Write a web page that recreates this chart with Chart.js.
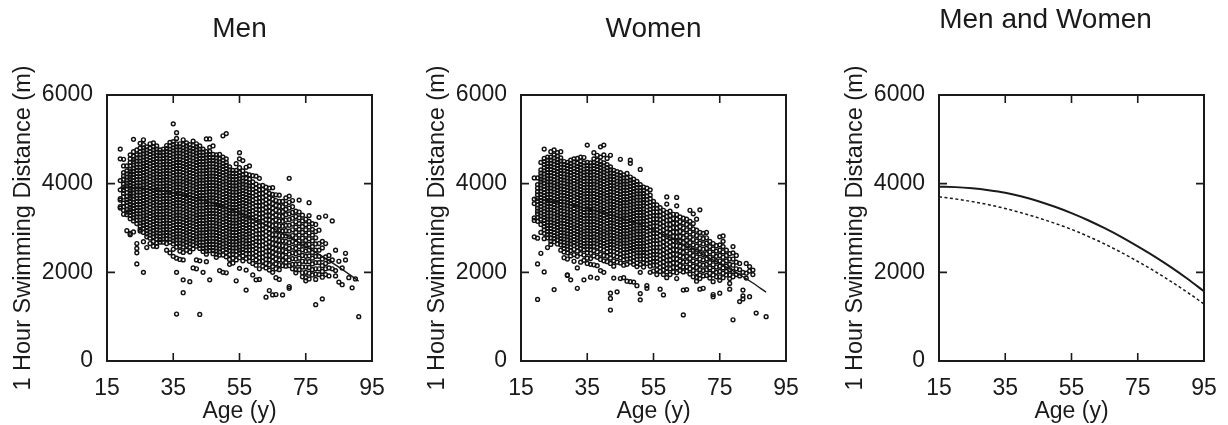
<!DOCTYPE html>
<html><head><meta charset="utf-8">
<script src="https://cdn.jsdelivr.net/npm/chart.js@4.4.1/dist/chart.umd.min.js"></script>
<style>
html,body{margin:0;padding:0;background:#fff;}
#wrap{position:relative;width:1228px;height:425px;overflow:hidden;background:#fff;}
canvas{position:absolute;left:0;top:0;}
</style></head><body>
<div id="wrap">
<canvas id="c1" width="1228" height="425"></canvas>
<canvas id="c2" width="1228" height="425"></canvas>
<canvas id="c3" width="1228" height="425"></canvas>
</div>
<script>
// ---------------- DATA ----------------
const xTickValues = [15, 35, 55, 75, 95];
const yTickValues = [0, 2000, 4000, 6000];
const panelTitles = ['Men', 'Women', 'Men and Women'];
const xAxisTitle = 'Age (y)';
const yAxisTitle = '1 Hour Swimming Distance (m)';

// Men: age (years) and the swimming distances (m) recorded at that age
const menAges = [19,20,21,22,23,24,25,26,27,28,29,30,31,32,33,34,35,36,37,38,39,40,41,42,43,44,45,46,47,48,49,50,51,52,53,54,55,56,57,58,59,60,61,62,63,64,65,66,67,68,69,70,71,72,73,74,75,76,77,78,79,80,81,82,83,84,85,86,87,88,89,90,91];
const menDist = [
[4780,4560,4070,3860,3660,3630,3480,3450],
[4550,4400,4250,4170,4100,3990,3920,3850,3780,3700,3560,3480,3400,3310],
[4400,4290,4220,4150,4080,4010,3950,3880,3800,3710,3640,3580,3500,3420,3360,3300,2940],
[4650,4560,4480,4400,4330,4270,4210,4150,4090,4030,3960,3900,3840,3780,3720,3660,3600,3530,3470,3410,3350,3280,3210,2880,2850],
[5000,4720,4620,4550,4490,4420,4350,4280,4210,4140,4070,4000,3930,3860,3790,3720,3650,3580,3510,3440,3370,3300,3230,3160,2910],
[4760,4650,4580,4510,4440,4370,4300,4230,4160,4090,4020,3950,3880,3810,3740,3670,3600,3530,3460,3390,3320,3250,3180,3100,2650,2540,2440,2190],
[4910,4800,4720,4650,4580,4510,4440,4370,4300,4230,4160,4090,4020,3950,3880,3810,3740,3670,3600,3530,3460,3390,3320,3250,3180,3110,3040,2970,2930],
[4990,4880,4810,4740,4670,4600,4530,4460,4390,4320,4250,4180,4110,4040,3970,3900,3830,3760,3690,3620,3550,3480,3410,3340,3270,3200,3130,3060,2990,2900,2690,2000],
[4830,4760,4690,4620,4550,4480,4410,4340,4270,4200,4130,4060,3990,3920,3850,3780,3710,3640,3570,3500,3430,3360,3290,3220,3150,3080,3010,2940,2870,2800,2560],
[4900,4800,4730,4660,4590,4520,4450,4380,4310,4240,4170,4100,4030,3960,3890,3820,3750,3680,3610,3540,3470,3400,3330,3260,3190,3120,3050,2980,2910,2840,2770,2650],
[4920,4830,4760,4690,4620,4550,4480,4410,4340,4270,4200,4130,4060,3990,3920,3850,3780,3710,3640,3570,3500,3430,3360,3290,3220,3150,3080,3010,2940,2870,2800,2700,2590],
[4850,4780,4710,4640,4570,4500,4430,4360,4290,4220,4150,4080,4010,3940,3870,3800,3730,3660,3590,3520,3450,3380,3310,3240,3170,3100,3030,2960,2890,2820,2750,2660,2580],
[4760,4700,4630,4560,4490,4420,4350,4280,4210,4140,4070,4000,3930,3860,3790,3720,3650,3580,3510,3440,3370,3300,3230,3160,3090,3020,2950,2880,2810,2740,2680],
[4780,4710,4640,4570,4500,4430,4360,4290,4220,4150,4080,4010,3940,3870,3800,3730,3660,3590,3520,3450,3380,3310,3240,3170,3100,3030,2960,2890,2820,2750,2680],
[4860,4790,4720,4650,4580,4510,4440,4370,4300,4230,4160,4090,4020,3950,3880,3810,3740,3670,3600,3530,3460,3390,3320,3250,3180,3110,3040,2970,2900,2830,2760,2650,2500],
[4930,4850,4780,4710,4640,4570,4500,4430,4360,4290,4220,4150,4080,4010,3940,3870,3800,3730,3660,3590,3520,3450,3380,3310,3240,3170,3100,3030,2960,2890,2820,2750,2680,2440],
[5350,4950,4880,4810,4740,4670,4600,4530,4460,4390,4320,4250,4180,4110,4040,3970,3900,3830,3760,3690,3620,3550,3480,3410,3340,3270,3200,3130,3060,2990,2920,2850,2780,2710,2640,2520,2360],
[5150,5020,4900,4830,4760,4690,4620,4550,4480,4410,4340,4270,4200,4130,4060,3990,3920,3850,3780,3710,3640,3570,3500,3430,3360,3290,3220,3150,3080,3010,2940,2870,2800,2730,2660,2570,2320,2000,1060],
[4900,4830,4760,4690,4620,4550,4480,4410,4340,4270,4200,4130,4060,3990,3920,3850,3780,3710,3640,3570,3500,3430,3360,3290,3220,3150,3080,3010,2940,2870,2800,2730,2660,2590,2480,2290],
[4990,4880,4810,4740,4670,4600,4530,4460,4390,4320,4250,4180,4110,4040,3970,3900,3830,3760,3690,3620,3550,3480,3410,3340,3270,3200,3130,3060,2990,2920,2850,2780,2710,2640,2570,2450,2280,1830,1540],
[4920,4850,4780,4710,4640,4570,4500,4430,4360,4290,4220,4150,4080,4010,3940,3870,3800,3730,3660,3590,3520,3450,3380,3310,3240,3170,3100,3030,2960,2890,2820,2750,2680,2610,2500],
[4880,4810,4740,4670,4600,4530,4460,4390,4320,4250,4180,4110,4040,3970,3900,3830,3760,3690,3620,3550,3480,3410,3340,3270,3200,3130,3060,2990,2920,2850,2780,2710,2640,2570,2460,1790],
[4960,4860,4790,4720,4650,4580,4510,4440,4370,4300,4230,4160,4090,4020,3950,3880,3810,3740,3670,3600,3530,3460,3390,3320,3250,3180,3110,3040,2970,2900,2830,2760,2690,2620,2530,2100],
[4900,4830,4760,4690,4620,4550,4480,4410,4340,4270,4200,4130,4060,3990,3920,3850,3780,3710,3640,3570,3500,3430,3360,3290,3220,3150,3080,3010,2940,2870,2800,2730,2660,2590,2280,2080],
[4850,4780,4710,4640,4570,4500,4430,4360,4290,4220,4150,4080,4010,3940,3870,3800,3730,3660,3590,3520,3450,3380,3310,3240,3170,3100,3030,2960,2890,2820,2750,2680,2610,2540,2260,1050],
[4780,4710,4640,4570,4500,4430,4360,4290,4220,4150,4080,4010,3940,3870,3800,3730,3660,3590,3520,3450,3380,3310,3240,3170,3100,3030,2960,2890,2820,2750,2680,2610,2540,2470,2000],
[5010,4720,4650,4580,4510,4440,4370,4300,4230,4160,4090,4020,3950,3880,3810,3740,3670,3600,3530,3460,3390,3320,3250,3180,3110,3040,2970,2900,2830,2760,2690,2620,2550,2480,2410,2240],
[5010,4820,4730,4660,4590,4520,4450,4380,4310,4240,4170,4100,4030,3960,3890,3820,3750,3680,3610,3540,3470,3400,3330,3260,3190,3120,3050,2980,2910,2840,2770,2700,2630,2560,2490,1830],
[4850,4660,4590,4520,4450,4380,4310,4240,4170,4100,4030,3960,3890,3820,3750,3680,3610,3540,3470,3400,3330,3260,3190,3120,3050,2980,2910,2840,2770,2700,2630,2560,2490,2420],
[4650,4580,4510,4440,4370,4300,4230,4160,4090,4020,3950,3880,3810,3740,3670,3600,3530,3460,3390,3320,3250,3180,3110,3040,2970,2900,2830,2760,2690,2620,2550,2480,2410,2340],
[4660,4560,4490,4420,4350,4280,4210,4140,4070,4000,3930,3860,3790,3720,3650,3580,3510,3440,3370,3300,3230,3160,3090,3020,2950,2880,2810,2740,2670,2600,2530,2460,2390,2040],
[5080,4600,4530,4460,4390,4320,4250,4180,4110,4040,3970,3900,3830,3760,3690,3620,3550,3480,3410,3340,3270,3200,3130,3060,2990,2920,2850,2780,2710,2640,2570,2500,2390,2000],
[5130,4560,4480,4410,4340,4270,4200,4130,4060,3990,3920,3850,3780,3710,3640,3570,3500,3430,3360,3290,3220,3150,3080,3010,2940,2870,2800,2730,2660,2590,2520,2450,2350,1990],
[4380,4310,4240,4170,4100,4030,3960,3890,3820,3750,3680,3610,3540,3470,3400,3330,3260,3190,3120,3050,2980,2910,2840,2770,2700,2630,2560,2490,2400,2290,2180],
[4300,4230,4160,4090,4020,3950,3880,3810,3740,3670,3600,3530,3460,3390,3320,3250,3180,3110,3040,2970,2900,2830,2760,2690,2620,2550,2480,2410,2320,2210],
[4450,4300,4230,4160,4090,4020,3950,3880,3810,3740,3670,3600,3530,3460,3390,3320,3250,3180,3110,3040,2970,2900,2830,2760,2690,2620,2550,2480,2390,2280,1810],
[4700,4560,4360,4250,4180,4110,4040,3970,3900,3830,3760,3690,3620,3550,3480,3410,3340,3270,3200,3130,3060,2990,2920,2850,2780,2710,2640,2570,2500,2440,2330,2090],
[4520,4290,4200,4130,4060,3990,3920,3850,3780,3710,3640,3570,3500,3430,3360,3290,3220,3150,3080,3010,2940,2870,2800,2730,2660,2590,2520,2450,2370,2260],
[4370,4220,4120,4040,3970,3900,3830,3760,3690,3620,3550,3480,3410,3340,3270,3200,3130,3060,2990,2920,2850,2780,2710,2640,2570,2500,2420,2310,2050,1600],
[4400,4200,4100,4020,3950,3880,3800,3730,3660,3590,3520,3440,3370,3300,3230,3160,3080,3010,2940,2870,2800,2720,2650,2580,2500,2420,2340,2250],
[4180,4040,3950,3870,3790,3710,3630,3550,3470,3390,3310,3230,3150,3070,2990,2910,2830,2750,2670,2590,2510,2430,2330,2200,1940],
[4170,3990,3900,3820,3740,3660,3580,3500,3420,3340,3260,3180,3100,3020,2940,2860,2780,2700,2620,2540,2460,2380,2280,2160,1830],
[4120,3950,3860,3770,3680,3590,3500,3410,3320,3230,3140,3050,2960,2870,2780,2690,2600,2510,2420,2330,2240,2080,1840],
[3960,3870,3780,3690,3600,3510,3420,3330,3240,3150,3060,2970,2880,2790,2700,2610,2520,2430,2340,2250,2140],
[3920,3820,3730,3640,3550,3460,3370,3280,3190,3100,3010,2920,2830,2740,2650,2560,2470,2380,2290,2200,2100,1440],
[3900,3780,3680,3580,3480,3380,3280,3180,3080,2980,2880,2780,2680,2580,2480,2380,2280,2170,2050,1590],
[3910,3760,3650,3550,3450,3350,3250,3150,3050,2950,2850,2750,2650,2550,2450,2350,2250,2130,2000,1490],
[3750,3620,3510,3400,3290,3180,3070,2960,2850,2740,2630,2520,2410,2300,2190,2080,1880,1500],
[3740,3600,3490,3380,3270,3160,3050,2940,2830,2720,2610,2500,2390,2280,2170,2060,1840],
[3600,3480,3370,3260,3150,3040,2930,2820,2710,2600,2490,2380,2270,2150,1490],
[3680,3540,3420,3300,3180,3060,2940,2820,2700,2580,2460,2340,2220,2140],
[4120,3720,3580,3450,3320,3190,3060,2930,2800,2670,2540,2410,2280,2150,1680,1640],
[3620,3480,3350,3220,3090,2960,2830,2700,2570,2440,2310,2180,2080],
[3380,3260,3140,3020,2900,2780,2660,2540,2420,2300,2180,2060,1990],
[3630,3360,3230,3100,2970,2840,2710,2580,2450,2320,2190,2060],
[3290,3160,3030,2900,2770,2640,2510,2380,2250,2120,1990,1900],
[3200,3080,2960,2840,2720,2600,2480,2360,2240,2120,2000,1880,1810],
[3570,3280,3150,3020,2890,2760,2630,2500,2370,2240,2110,1980,1850],
[3100,2970,2840,2710,2580,2450,2320,2190,2060,1940],
[3080,2920,2780,2640,2500,2360,2220,2080,1960,1840,1270],
[3240,2950,2650,2500,2360,2220,2080,1950],
[2700,2550,2300,2150,2020,1890,1400],
[3270,2650,2350,2200,2080,1950],
[2380,2250,2100,1920],
[3160,2280,2080],
[2500,2040,1920],
[2250,1780],
[2100,1720],
[2430,2280],
[1880],
[1650],
[1850],
[1000]
];

// Women: age (years) and swimming distances (m)
const womenAges = [19,20,21,22,23,24,25,26,27,28,29,30,31,32,33,34,35,36,37,38,39,40,41,42,43,44,45,46,47,48,49,50,51,52,53,54,55,56,57,58,59,60,61,62,63,64,65,66,67,68,69,70,71,72,73,74,75,76,77,78,79,80,81,82,83,84,85,86,89];
const womenDist = [
[4130,3650,3550,3230,3170,2800],
[4130,3980,3900,3820,3750,3670,3600,3520,3450,3380,3320,3240,3150,2770,2190,1390],
[4480,4310,4240,4170,4100,4040,3970,3900,3830,3760,3690,3620,3550,3480,3410,3340,3270,3200,3080,2900,2430],
[4780,4570,4500,4430,4360,4290,4220,4150,4080,4010,3940,3870,3800,3730,3660,3590,3520,3450,3380,3310,3240,3170,3100,3030,2960,2880,2760,2010],
[4600,4530,4460,4390,4320,4250,4180,4110,4040,3970,3900,3830,3760,3690,3620,3550,3480,3410,3340,3270,3200,3130,3060,2990,2920,2850,2780,2560],
[4720,4600,4530,4460,4390,4320,4250,4180,4110,4040,3970,3900,3830,3760,3690,3620,3550,3480,3410,3340,3270,3200,3130,3060,2990,2920,2850,2780,2700,2630],
[4760,4650,4580,4510,4440,4370,4300,4230,4160,4090,4020,3950,3880,3810,3740,3670,3600,3530,3460,3390,3320,3250,3180,3110,3040,2970,2900,2830,2760,2690,1610],
[4700,4620,4550,4480,4410,4340,4270,4200,4130,4060,3990,3920,3850,3780,3710,3640,3570,3500,3430,3360,3290,3220,3150,3080,3010,2940,2870,2800,2730,2640],
[4720,4580,4510,4440,4370,4300,4230,4160,4090,4020,3950,3880,3810,3740,3670,3600,3530,3460,3390,3320,3250,3180,3110,3040,2970,2900,2830,2760,2690,2620,2500],
[4500,4430,4360,4290,4220,4150,4080,4010,3940,3870,3800,3730,3660,3590,3520,3450,3380,3310,3240,3170,3100,3030,2960,2890,2820,2750,2680,2610,2540,2460,2330],
[4480,4410,4340,4270,4200,4130,4060,3990,3920,3850,3780,3710,3640,3570,3500,3430,3360,3290,3220,3150,3080,3010,2940,2870,2800,2730,2660,2590,2520,2440,2300,1940,1930],
[4530,4460,4390,4320,4250,4180,4110,4040,3970,3900,3830,3760,3690,3620,3550,3480,3410,3340,3270,3200,3130,3060,2990,2920,2850,2780,2710,2640,2570,2490,2370,1830],
[4560,4490,4420,4350,4280,4210,4140,4070,4000,3930,3860,3790,3720,3650,3580,3510,3440,3370,3300,3230,3160,3090,3020,2950,2880,2810,2740,2670,2600,2520,2400,2250],
[4570,4460,4390,4320,4250,4180,4110,4040,3970,3900,3830,3760,3690,3620,3550,3480,3410,3340,3270,3200,3130,3060,2990,2920,2850,2780,2710,2640,2570,2480,2360,2100,1640],
[4600,4500,4430,4360,4290,4220,4150,4080,4010,3940,3870,3800,3730,3660,3590,3520,3450,3380,3310,3240,3170,3100,3030,2960,2890,2820,2750,2680,2610,2540,2420,2230],
[4590,4470,4400,4330,4260,4190,4120,4050,3980,3910,3840,3770,3700,3630,3560,3490,3420,3350,3280,3210,3140,3070,3000,2930,2860,2790,2720,2650,2580,2510,2390,2270,1830],
[4870,4480,4410,4340,4270,4200,4130,4060,3990,3920,3850,3780,3710,3640,3570,3500,3430,3360,3290,3220,3150,3080,3010,2940,2870,2800,2730,2660,2590,2520,2440,2320,2200],
[4470,4400,4330,4260,4190,4120,4050,3980,3910,3840,3770,3700,3630,3560,3490,3420,3350,3280,3210,3140,3070,3000,2930,2860,2790,2720,2650,2580,2510,2430,2310,2180,1890],
[4700,4560,4480,4410,4340,4270,4200,4130,4060,3990,3920,3850,3780,3710,3640,3570,3500,3430,3360,3290,3220,3150,3080,3010,2940,2870,2800,2730,2660,2590,2490,2370,2170],
[4640,4530,4460,4390,4320,4250,4180,4110,4040,3970,3900,3830,3760,3690,3620,3550,3480,3410,3340,3270,3200,3130,3060,2990,2920,2850,2780,2710,2640,2570,2460,2340,2150,1870],
[4830,4600,4500,4430,4360,4290,4220,4150,4080,4010,3940,3870,3800,3730,3660,3590,3520,3450,3380,3310,3240,3170,3100,3030,2960,2890,2820,2750,2680,2610,2530,2410,2290,2040],
[4870,4650,4470,4400,4330,4260,4190,4120,4050,3980,3910,3840,3770,3700,3630,3560,3490,3420,3350,3280,3210,3140,3070,3000,2930,2860,2790,2720,2650,2580,2500,2380,2260,2000],
[4570,4430,4360,4290,4220,4150,4080,4010,3940,3870,3800,3730,3660,3590,3520,3450,3380,3310,3240,3170,3100,3030,2960,2890,2820,2750,2680,2610,2540,2460,2360,2240],
[4640,4380,4310,4240,4170,4100,4030,3960,3890,3820,3750,3680,3610,3540,3470,3400,3330,3260,3190,3120,3050,2980,2910,2840,2770,2700,2630,2560,2480,2400,2320,2200,1530,1410,1150],
[4300,4230,4160,4090,4020,3950,3880,3810,3740,3670,3600,3530,3460,3390,3320,3250,3180,3110,3040,2970,2900,2830,2760,2690,2620,2550,2470,2380,2260,2140,1870],
[4270,4200,4130,4060,3990,3920,3850,3780,3710,3640,3570,3500,3430,3360,3290,3220,3150,3080,3010,2940,2870,2800,2730,2660,2590,2520,2440,2350,2230,1560],
[4550,4250,4180,4110,4040,3970,3900,3830,3760,3690,3620,3550,3480,3410,3340,3270,3200,3130,3060,2990,2920,2850,2780,2710,2640,2570,2490,2410,2330,2210,1860],
[4200,4130,4060,3990,3920,3850,3780,3710,3640,3570,3500,3430,3360,3290,3220,3150,3080,3010,2940,2870,2800,2730,2660,2590,2520,2440,2360,2280,2160,1880],
[4230,4130,4060,3990,3920,3850,3780,3710,3640,3570,3500,3430,3360,3290,3220,3150,3080,3010,2940,2870,2800,2730,2660,2590,2520,2450,2370,2300,2180,1800],
[4530,4460,4150,4080,4010,3940,3870,3800,3730,3660,3590,3520,3450,3380,3310,3240,3170,3100,3030,2960,2890,2820,2750,2680,2610,2540,2470,2390,2310,2230,1790],
[4100,4030,3960,3890,3820,3750,3680,3610,3540,3470,3400,3330,3260,3190,3120,3050,2980,2910,2840,2770,2700,2630,2560,2490,2420,2340,2260,2180,1780],
[4050,3980,3910,3840,3770,3700,3630,3560,3490,3420,3350,3280,3210,3140,3070,3000,2930,2860,2790,2720,2650,2580,2510,2440,2370,2290,2210,2130,1700],
[4320,3980,3910,3840,3770,3700,3630,3560,3490,3420,3350,3280,3210,3140,3070,3000,2930,2860,2790,2720,2650,2580,2510,2440,2370,2300,2180,2000,1520,1380],
[3920,3850,3780,3710,3640,3570,3500,3430,3360,3290,3220,3150,3080,3010,2940,2870,2800,2730,2660,2590,2520,2450,2380,2300,2220,2120],
[3900,3800,3720,3640,3560,3480,3400,3320,3240,3160,3080,3000,2920,2840,2760,2680,2600,2520,2440,2360,2280,2200,1700,1640],
[3860,3740,3660,3580,3500,3420,3340,3260,3180,3100,3020,2940,2860,2780,2700,2620,2540,2460,2380,2300,2220,2140,2000],
[3600,3520,3440,3360,3280,3200,3120,3040,2960,2880,2800,2720,2640,2560,2480,2400,2320,2240,2160,2030],
[3520,3440,3360,3280,3200,3120,3040,2960,2880,2800,2720,2640,2560,2480,2400,2320,2240,2160,2060,1950],
[3460,3370,3280,3190,3100,3010,2920,2830,2740,2650,2560,2470,2380,2290,2200,2110,2020,1620],
[3400,3310,3220,3130,3040,2950,2860,2770,2680,2590,2500,2410,2320,2230,2140,2050,1950,1490],
[3700,3540,3350,3260,3170,3080,2990,2900,2810,2720,2630,2540,2450,2360,2270,2180,2090,2010,1880],
[3380,3280,3180,3080,2980,2880,2780,2680,2580,2480,2380,2280,2180,2080,1950],
[3310,3210,3110,3010,2910,2810,2710,2610,2510,2410,2310,2210,2110,2010],
[3690,3500,3300,3200,3100,3000,2900,2800,2700,2600,2500,2400,2300,2200,2100,1990,1860],
[3250,3140,3030,2920,2810,2700,2590,2480,2370,2260,2150,2040],
[3220,3110,3000,2890,2780,2670,2560,2450,2340,2230,2120,2010,1600,1040],
[3200,3080,2960,2840,2720,2600,2480,2360,2240,2120,2030,1610],
[3400,3150,3030,2910,2790,2670,2550,2430,2310,2190,2080,1960],
[3320,3100,2980,2860,2740,2620,2500,2380,2260,2140,2040,1900],
[3200,2950,2830,2710,2590,2470,2350,2230,2110,1990,1880,1800],
[3410,2900,2780,2660,2540,2420,2300,2180,2060,1940,1860,1620],
[2880,2760,2640,2520,2400,2280,2160,2040,1920,1640],
[2900,2780,2660,2540,2420,2300,2180,2060,1930],
[2700,2580,2460,2340,2220,2100,1980,1870],
[2650,2530,2410,2290,2170,2050,1940,1790,1500,1450],
[2600,2480,2360,2240,2120,2000,1900],
[2800,2620,2500,2380,2260,2140,2020,1900,1820,1530],
[2820,2700,2580,2460,2340,2220,2100,1980,1880],
[2500,2380,2260,2140,2020,1940],
[2420,2300,2180,2060,1940,1860,1750,1620],
[2580,2440,2300,2160,2020,1900,930],
[2380,2230,2080,1950],
[2200,2060,1920,1340],
[2000,1600,1470,1400],
[2200,1980,1870],
[2130,2030,1450],
[2050,1950],
[1080],
[1000]
];

// Fitted curves (age, distance m)
const fitAges  = [15,20,25,30,35,40,45,50,55,60,65,70,75,80,85,90,95];
const menFit   = [3930,3922,3895,3852,3795,3712,3605,3478,3335,3175,2995,2800,2585,2360,2118,1855,1572];
const womenFit = [3704,3655,3595,3525,3440,3340,3228,3105,2970,2812,2640,2450,2245,2029,1795,1549,1285];

// Fit lines as drawn over the scatter panels
const menLineAges    = [19,25,35,45,55,65,75,85,91];
const menLineDist    = [3922,3895,3795,3605,3335,2995,2585,2118,1800];
const womenLineAges  = [19,25,35,45,55,65,75,85,89];
const womenLineDist  = [3665,3595,3440,3228,2960,2590,2200,1760,1550];

// ---------------- RENDER ----------------
const FONT = "'Liberation Sans', Arial, Helvetica, sans-serif";
const INK = '#1a1a1a';
const W = 1228, H = 425;
const YW = 98;   // y-axis box width
const XH = 64;   // x-axis box height

function scatterPoints(ages, dists) {
  const pts = [];
  ages.forEach((a, i) => (dists[i] || []).forEach(d => pts.push({x: a, y: d})));
  return pts;
}
function linePoints(xs, ys) { return xs.map((x, i) => ({x, y: ys[i]})); }

function framePlugin() {
  return {
    id: 'frameTicks',
    afterDatasetsDraw(chart) {
      const {ctx, chartArea: a, scales: {x, y}} = chart;
      ctx.save();
      ctx.strokeStyle = INK;
      ctx.lineWidth = 1.6;
      ctx.lineCap = 'butt';
      ctx.beginPath();
      const L = 8;
      x.ticks.forEach(t => {
        const px = x.getPixelForValue(t.value);
        ctx.moveTo(px, a.bottom); ctx.lineTo(px, a.bottom - L);
        ctx.moveTo(px, a.top); ctx.lineTo(px, a.top + L);
      });
      y.ticks.forEach(t => {
        const py = y.getPixelForValue(t.value);
        ctx.moveTo(a.left, py); ctx.lineTo(a.left + L, py);
        ctx.moveTo(a.right, py); ctx.lineTo(a.right - L, py);
      });
      ctx.stroke();
      ctx.lineWidth = 2;
      ctx.strokeRect(a.left, a.top, a.right - a.left, a.bottom - a.top);
      ctx.restore();
    }
  };
}
function titlePlugin(text, dx, baseline) {
  return {
    id: 'panelTitle',
    afterDraw(chart) {
      const {ctx, chartArea: a} = chart;
      ctx.save();
      ctx.font = '28px ' + FONT;
      ctx.fillStyle = INK;
      ctx.textAlign = 'center';
      ctx.textBaseline = 'alphabetic';
      ctx.fillText(text, (a.left + a.right) / 2 + dx, baseline);
      ctx.restore();
    }
  };
}

function makeChart(id, area, title, titleDx, titleBase, datasets) {
  return new Chart(document.getElementById(id), {
    type: 'scatter',
    data: {datasets},
    plugins: [framePlugin(), titlePlugin(title, titleDx, titleBase)],
    options: {
      responsive: false, animation: false, devicePixelRatio: 1,
      events: [],
      layout: {padding: {left: area.left - YW, right: W - area.right, top: area.top, bottom: H - area.bottom - XH}},
      plugins: {legend: {display: false}, tooltip: {enabled: false}, title: {display: false}},
      scales: {
        x: {
          type: 'linear', min: 15, max: 95,
          afterBuildTicks: s => { s.ticks = xTickValues.map(v => ({value: v})); },
          afterFit: s => { s.height = XH; },
          grid: {display: false}, border: {display: false},
          ticks: {padding: 6, autoSkip: false, maxRotation: 0, color: INK, font: {family: FONT, size: 23}, callback: v => String(v)},
          title: {display: true, text: xAxisTitle, color: INK, font: {family: FONT, size: 23}, padding: 0}
        },
        y: {
          type: 'linear', min: 0, max: 6000,
          afterBuildTicks: s => { s.ticks = yTickValues.map(v => ({value: v})); },
          afterFit: s => { s.width = YW; },
          grid: {display: false}, border: {display: false},
          ticks: {padding: 6, autoSkip: false, color: INK, font: {family: FONT, size: 23}, callback: v => String(v)},
          title: {display: true, text: yAxisTitle, color: INK, font: {family: FONT, size: 23.5}, padding: 0}
        }
      }
    }
  });
}

const dotStyle = {showLine: false, pointRadius: 1.9, pointBorderWidth: 1.45, pointBorderColor: '#111', pointBackgroundColor: 'rgba(0,0,0,0)', pointHoverRadius: 0};
const lineStyle = (w, dash) => ({showLine: true, pointRadius: 0, borderColor: INK, borderWidth: w, borderDash: dash, cubicInterpolationMode: 'monotone', fill: false});

makeChart('c1', {left: 107, right: 372, top: 95, bottom: 361}, panelTitles[0], 0, 37, [
  Object.assign({label: 'Men', data: scatterPoints(menAges, menDist)}, dotStyle),
  Object.assign({label: 'Men fit', data: linePoints(menLineAges, menLineDist)}, lineStyle(1.4, []))
]);
makeChart('c2', {left: 521, right: 786, top: 95, bottom: 361}, panelTitles[1], 0, 37, [
  Object.assign({label: 'Women', data: scatterPoints(womenAges, womenDist)}, dotStyle),
  Object.assign({label: 'Women fit', data: linePoints(womenLineAges, womenLineDist)}, lineStyle(1.4, []))
]);
makeChart('c3', {left: 939, right: 1204, top: 95, bottom: 361}, panelTitles[2], -26, 28, [
  Object.assign({label: 'Men', data: linePoints(fitAges, menFit)}, lineStyle(2, [])),
  Object.assign({label: 'Women', data: linePoints(fitAges, womenFit)}, lineStyle(1.5, [3, 2.5]))
]);
</script>
</body></html>
